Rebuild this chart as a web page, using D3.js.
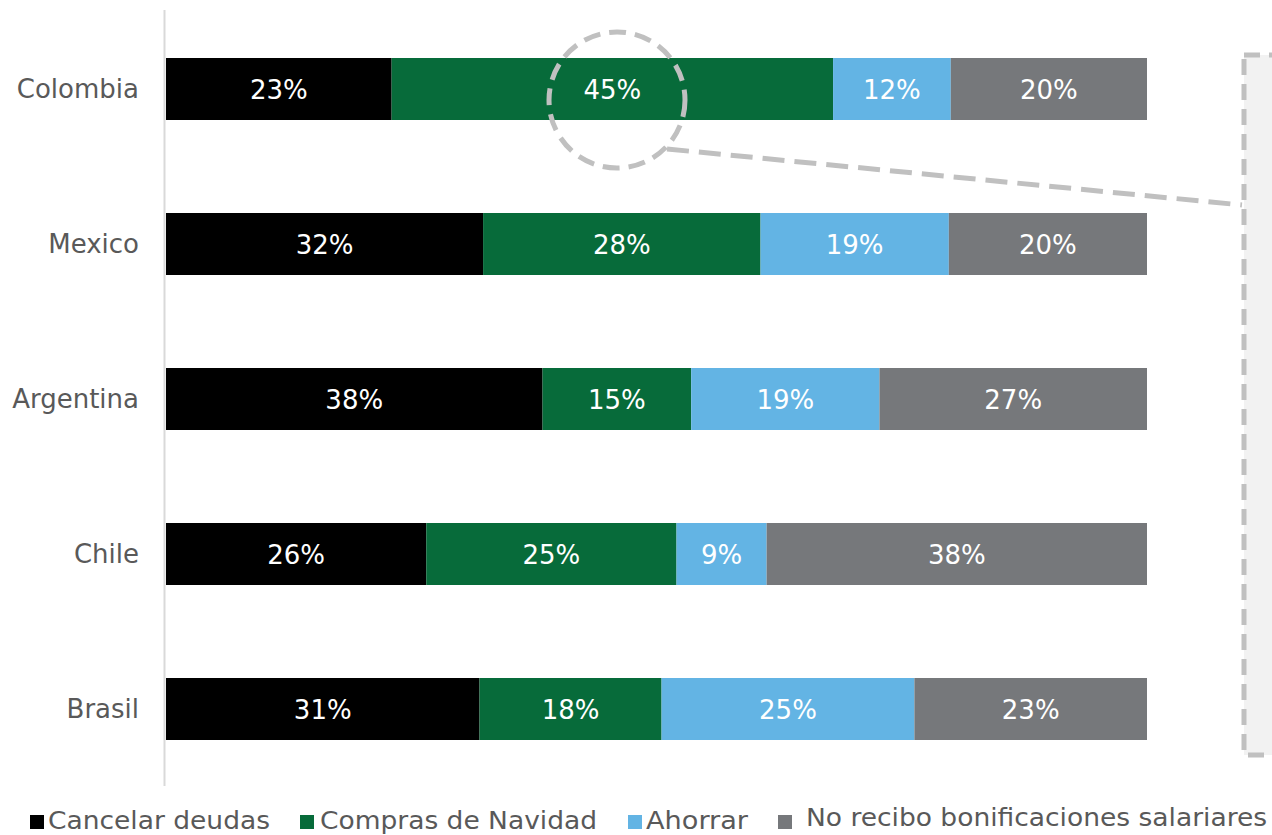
<!DOCTYPE html>
<html><head><meta charset="utf-8">
<script src="https://cdn.jsdelivr.net/npm/d3@7"></script>
<style>body{margin:0;background:#fff;}svg{display:block;}</style>
</head><body>
<svg id="c" width="1272" height="835"></svg>
<script>
const countries = ["Colombia","Mexico","Argentina","Chile","Brasil"];
const seriesNames = ["Cancelar deudas","Compras de Navidad","Ahorrar","No recibo bonificaciones salariares"];
const cancelar = [23,32,38,26,31];
const compras  = [45,28,15,25,18];
const ahorrar  = [12,19,19,9,25];
const noRecibo = [20,20,27,38,23];
const colors = ["#000000","#076b3a","#63b4e4","#76787b"];

const seriesVals = [cancelar,compras,ahorrar,noRecibo];
const keys = ["a","b","c","d"];
const rows = countries.map((c,i)=>({country:c,a:cancelar[i],b:compras[i],c:ahorrar[i],d:noRecibo[i]}));
const stack = d3.stack().keys(keys).offset(d3.stackOffsetExpand)(rows);

const svg = d3.select("#c");
const x = d3.scaleLinear().domain([0,1]).range([166,1147]);
const y = d3.scaleBand().domain(countries).range([11.5,786.5]).paddingInner(0.6).paddingOuter(0.3);

// dashed box on right
svg.append("rect").attr("x",1244).attr("y",55).attr("width",60).attr("height",700)
  .attr("fill","#f2f2f2").attr("stroke","#c0c0c0").attr("stroke-width",5).attr("stroke-dasharray","16,9");

// axis line
svg.append("line").attr("x1",164.5).attr("x2",164.5).attr("y1",10).attr("y2",786)
  .attr("stroke","#d9d9d9").attr("stroke-width",2);

const g = svg.append("g");
stack.forEach((s,si)=>{
  g.selectAll(null).data(s).enter().append("rect")
    .attr("x",d=>x(d[0])).attr("width",d=>x(d[1])-x(d[0]))
    .attr("y",d=>y(d.data.country)).attr("height",y.bandwidth())
    .attr("fill",colors[si]);
  g.selectAll(null).data(s).enter().append("text")
    .attr("x",d=>(x(d[0])+x(d[1]))/2).attr("y",d=>y(d.data.country)+y.bandwidth()/2+1)
    .attr("dy","0.36em").attr("text-anchor","middle")
    .attr("font-family","Verdana, 'DejaVu Sans', sans-serif").attr("font-size",26)
    .attr("fill","#fff").text((d,i)=>seriesVals[si][i]+"%");
});

// category labels
svg.append("g").selectAll("text").data(countries).enter().append("text")
  .attr("x",139).attr("y",d=>y(d)+y.bandwidth()/2).attr("dy","0.36em")
  .attr("text-anchor","end").attr("font-family","Verdana, 'DejaVu Sans', sans-serif")
  .attr("font-size",26).attr("fill","#595959").text(d=>d);

// callout circle and line
svg.append("circle").attr("cx",617).attr("cy",100).attr("r",68)
  .attr("fill","none").attr("stroke","#c0c0c0").attr("stroke-width",5).attr("stroke-dasharray","17,9");
svg.append("line").attr("x1",667).attr("y1",149).attr("x2",1242).attr("y2",205)
  .attr("stroke","#c0c0c0").attr("stroke-width",5).attr("stroke-dasharray","22,10");

// legend
const legend = [
  {sx:30, tx:48, w:222, by:829},
  {sx:300, tx:320, w:277, by:829},
  {sx:628, tx:646, w:102, by:829},
  {sx:778, tx:806, w:461, by:826}
];
const lg = svg.append("g");
legend.forEach((l,i)=>{
  lg.append("rect").attr("x",l.sx).attr("y",815).attr("width",14).attr("height",14).attr("fill",colors[i]);
  lg.append("text").attr("x",l.tx).attr("y",l.by)
    .attr("font-family","'DejaVu Sans Condensed', 'DejaVu Sans', sans-serif").attr("font-size",24)
    .attr("fill","#595959").attr("textLength",l.w).attr("lengthAdjust","spacingAndGlyphs")
    .text(seriesNames[i]);
});
</script>
</body></html>
